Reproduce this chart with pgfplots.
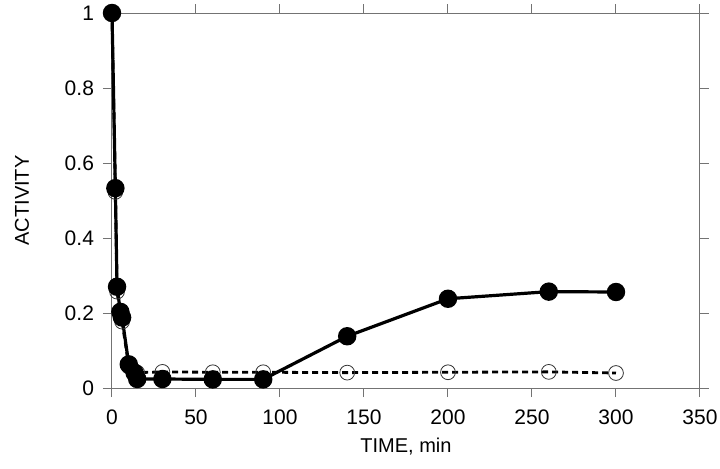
\documentclass[border=0pt]{standalone}
\usepackage{pgfplots}
\pgfplotsset{compat=1.18}
\usepackage{fontspec}
\setmainfont{Liberation Sans}

\begin{document}
\begin{tikzpicture}
\begin{axis}[
  at={(0,0)}, anchor=south west,
  scale only axis,
  width=294pt, height=187.5pt,
  xmin=0, xmax=350, ymin=0, ymax=1,
  xtick={0,50,...,350},
  ytick={0,0.2,0.4,0.6,0.8,1},
  yticklabels={0,0.2,0.4,0.6,0.8,1},
  tick align=outside,
  major tick length=4.5pt,
  axis line style={draw=black!55, line width=0.5pt},
  tick style={draw=black!55, line width=0.5pt},
  tick label style={font=\fontsize{10.5}{12}\selectfont},
  /pgf/number format/assume math mode=true,
  xticklabel style={yshift=-3pt},
  yticklabel style={xshift=-1pt},
  xlabel={TIME, min},
  ylabel={ACTIVITY},
  label style={font=\fontsize{10}{12}\selectfont},
  xlabel style={yshift=0.5pt},
  ylabel style={yshift=11pt},
  clip=false,
]
\addplot[black, line width=1.4pt, densely dashed, mark=o,
  mark size=3.7pt, mark options={solid, line width=0.4pt, draw=black!80, fill=white}]
  coordinates {
  (0,1.0) (2,0.523) (3,0.257) (5,0.19) (6,0.177) (10,0.057) (13.5,0.045)
  (15,0.041) (30,0.043) (60,0.042) (90,0.042) (140,0.041) (200,0.042)
  (260,0.043) (300,0.040)
};
\addplot[black, line width=1.6pt, mark=*,
  mark size=3.8pt, mark options={solid, fill=black}]
  coordinates {
  (0,1.0) (2,0.533) (3,0.27) (5,0.203) (6,0.188) (10,0.063) (13.5,0.04)
  (15,0.024) (30,0.024) (60,0.023) (90,0.023) (140,0.138) (200,0.238)
  (260,0.257) (300,0.256)
};
\end{axis}
\pgfresetboundingbox
\path (-56pt,-40pt) rectangle (304pt,194pt);
\end{tikzpicture}
\end{document}
